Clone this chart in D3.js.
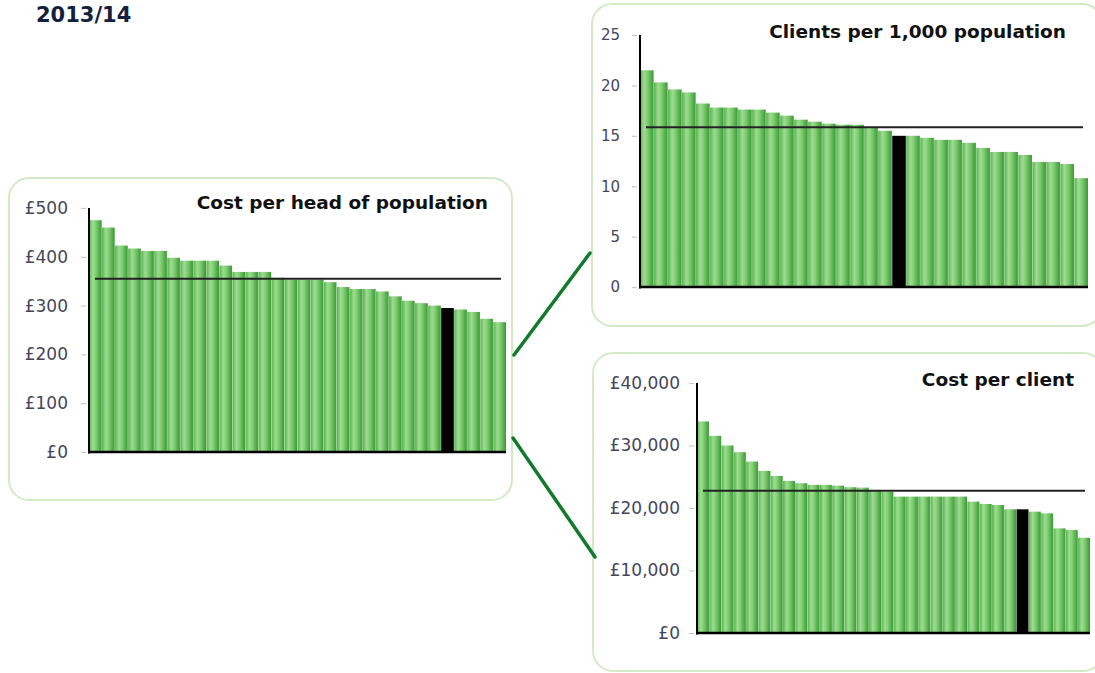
<!DOCTYPE html>
<html><head><meta charset="utf-8">
<script src="https://cdn.jsdelivr.net/npm/d3@7"></script>
<style>
html,body{margin:0;padding:0;background:#fff;}
svg{display:block;font-family:"DejaVu Sans",Verdana,sans-serif;}
</style></head>
<body>
<svg id="c" width="1095" height="673"></svg>
<script>
// ---- data ----
const costPerHead = [475,460,423,417,412,412,398,392,392,392,382,369,369,369,357,353,353,353,348,338,334,334,329,319,310,305,300,295,292,287,273,266];
const costPerHeadHighlight = 27;
const costPerHeadAverage = 355;
const costPerHeadTicks = [0,100,200,300,400,500];

const clientsPer1000 = [21.5,20.3,19.6,19.3,18.2,17.8,17.8,17.6,17.6,17.3,17.0,16.6,16.4,16.2,16.1,16.1,15.8,15.5,15.0,15.0,14.8,14.6,14.6,14.3,13.8,13.4,13.4,13.1,12.4,12.4,12.2,10.8];
const clientsHighlight = 18;
const clientsAverage = 15.85;
const clientsTicks = [0,5,10,15,20,25];

const costPerClient = [33850,31550,30000,28930,27430,25940,25130,24330,23960,23690,23690,23580,23320,23260,22890,22620,21820,21820,21820,21820,21820,21820,21020,20640,20480,19790,19790,19410,19140,16740,16470,15240];
const costPerClientHighlight = 26;
const costPerClientAverage = 22780;
const costPerClientTicks = [0,10000,20000,30000,40000];

const titles = ["Cost per head of population","Clients per 1,000 population","Cost per client"];
const headerText = "2013/14";

// ---- drawing ----
const svg = d3.select("#c");
const defs = svg.append("defs");
const grad = defs.append("linearGradient").attr("id","barGrad").attr("x1","0").attr("x2","1").attr("y1","0").attr("y2","0");
[["0%","#54b44d"],["30%","#a0db92"],["55%","#80cd72"],["100%","#389a34"]].forEach(([o,c])=>grad.append("stop").attr("offset",o).attr("stop-color",c));

// header (top of a longer title, mostly cut off in the source)
svg.append("text").attr("x",36).attr("y",22).attr("font-size",21).attr("font-weight","bold").attr("fill","#14213d").text(headerText);

// panel boxes
const boxes = [
  {x:9,y:178,w:503,h:322},
  {x:592,y:4,w:510,h:322},
  {x:593,y:353,w:510,h:318}
];
svg.selectAll("rect.box").data(boxes).join("rect").attr("class","box")
  .attr("x",d=>d.x).attr("y",d=>d.y).attr("width",d=>d.w).attr("height",d=>d.h)
  .attr("rx",20).attr("fill","none").attr("stroke","#d3eac6").attr("stroke-width",2);

// connectors
const connectors = [[[514,355],[590,253]],[[513,438],[595,557]]];
svg.selectAll("line.conn").data(connectors).join("line").attr("class","conn")
  .attr("x1",d=>d[0][0]).attr("y1",d=>d[0][1]).attr("x2",d=>d[1][0]).attr("y2",d=>d[1][1])
  .attr("stroke","#137a2c").attr("stroke-width",3.5).attr("stroke-linecap","round");

function drawChart(cfg){
  const g = svg.append("g");
  const x = d3.scaleBand().domain(d3.range(cfg.values.length)).range([cfg.x0,cfg.x1]).paddingInner(0.03).paddingOuter(0.0);
  const y = d3.scaleLinear().domain([0,cfg.max]).range([cfg.yBottom,cfg.yTop]);
  g.selectAll("rect.bar").data(cfg.values).join("rect").attr("class","bar")
    .attr("x",(d,i)=>x(i)).attr("width",x.bandwidth())
    .attr("y",d=>y(d)).attr("height",d=>y(0)-y(d))
    .attr("fill",(d,i)=>i===cfg.highlight?"#000":"url(#barGrad)");
  // y axis
  const ax = g.append("g").attr("transform",`translate(${cfg.x0},0)`)
    .call(d3.axisLeft(y).tickValues(cfg.ticks).tickFormat(cfg.fmt).tickSize(6).tickPadding(cfg.pad));
  ax.select(".domain").remove();
  ax.selectAll(".tick line").attr("stroke","#c9c9c9").attr("stroke-width",1.2).attr("x2",-8).attr("x1",-3);
  ax.selectAll(".tick text").attr("font-size",cfg.fs).attr("fill","#45465a").attr("font-family","DejaVu Sans, Verdana, sans-serif");
  g.append("line").attr("x1",cfg.x0).attr("x2",cfg.x0).attr("y1",y(cfg.max)).attr("y2",y(0)+1.5).attr("stroke","#000").attr("stroke-width",2);
  g.append("line").attr("x1",cfg.x0-1).attr("x2",cfg.x1).attr("y1",y(0)).attr("y2",y(0)).attr("stroke","#000").attr("stroke-width",2.5);
  // average line
  g.append("line").attr("x1",cfg.x0+6).attr("x2",cfg.x1-5).attr("y1",y(cfg.avg)).attr("y2",y(cfg.avg))
    .attr("stroke","#222").attr("stroke-width",2);
  // title
  g.append("text").attr("x",cfg.tx).attr("y",cfg.ty).attr("text-anchor","end").attr("font-weight","bold")
    .attr("font-size",18.5).attr("fill","#111").text(cfg.title);
}

drawChart({values:costPerHead,highlight:costPerHeadHighlight,avg:costPerHeadAverage,ticks:costPerHeadTicks,max:500,
  fmt:d=>"£"+d,x0:89,x1:506,yTop:208,yBottom:452,pad:15,fs:17,title:titles[0],tx:488,ty:209});
drawChart({values:clientsPer1000,highlight:clientsHighlight,avg:clientsAverage,ticks:clientsTicks,max:25,
  fmt:d=>String(d),x0:640,x1:1088,yTop:35,yBottom:287,pad:14,fs:15,title:titles[1],tx:1066,ty:38});
drawChart({values:costPerClient,highlight:costPerClientHighlight,avg:costPerClientAverage,ticks:costPerClientTicks,max:40000,
  fmt:d=>"£"+d3.format(",")(d),x0:697,x1:1090,yTop:383,yBottom:633,pad:11,fs:17,title:titles[2],tx:1074,ty:386});
</script>
</body></html>
